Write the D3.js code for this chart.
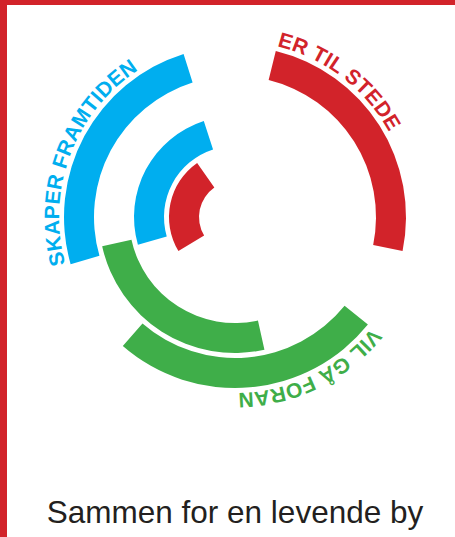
<!DOCTYPE html>
<html>
<head>
<meta charset="utf-8">
<script src="https://cdn.jsdelivr.net/npm/d3@7"></script>
<style>
  html, body { margin: 0; padding: 0; background: #fff; }
  svg { display: block; }
</style>
</head>
<body>
<svg id="chart" width="455" height="537"></svg>
<script>
// ---- data ----
const labels = ["SKAPER FRAMTIDEN", "ER TIL STEDE", "VIL GÅ FORAN"];
const labelColors = ["#00aeef", "#d2232a", "#3fae49"];
const labelStart = [-105.5, 13.8, 129];          // degrees, clockwise from 12 o'clock

const arcGroup = [0, 0, 1, 1, 2, 2];              // index into labels
const arcRing = [3, 1, 3, 0, 2, 3];               // ring number (0 = innermost)
const arcStart = [-106, -106, 13.8, -121, 167.5, 129];
const arcEnd = [-17.5, -18, 101.5, -35, 257.6, 221];

const caption = "Sammen for en levende by";

// ---- layout ----
const W = 455, H = 537;
const cx = 235, cy = 217;
const svg = d3.select("#chart");

const ang = d3.scaleLinear().domain([0, 360]).range([0, 2 * Math.PI]);
const ringInner = d3.scaleLinear().domain([0, 3]).range([36, 141]);
const ringWidth = 30;
const labelRadius = 176;

// frame
svg.append("rect").attr("x", 0).attr("y", 0).attr("width", W).attr("height", 5).attr("fill", "#d2232a");
svg.append("rect").attr("x", 0).attr("y", 0).attr("width", 7).attr("height", H).attr("fill", "#d2232a");

const g = svg.append("g").attr("transform", `translate(${cx},${cy})`);

const arcGen = d3.arc()
  .innerRadius(d => ringInner(d.ring))
  .outerRadius(d => ringInner(d.ring) + ringWidth)
  .startAngle(d => ang(d.start))
  .endAngle(d => ang(d.end));

const arcData = arcRing.map((r, i) => ({ ring: r, start: arcStart[i], end: arcEnd[i], group: arcGroup[i] }));

g.selectAll("path.arc")
  .data(arcData)
  .join("path")
  .attr("class", "arc")
  .attr("d", arcGen)
  .attr("fill", d => labelColors[d.group]);

// label paths (clockwise circles starting at label start)
labels.forEach((lab, i) => {
  const p = d3.path();
  const a0 = ang(labelStart[i]) - Math.PI / 2;
  p.arc(0, 0, labelRadius, a0, a0 + Math.PI * 1.9, false);
  g.append("path").attr("id", "lp" + i).attr("d", p.toString()).attr("fill", "none");
  g.append("text")
    .attr("font-family", "'Liberation Sans', Arial, Helvetica, sans-serif")
    .attr("font-weight", "bold")
    .attr("font-size", 21)
    .attr("letter-spacing", 0.3)
    .attr("fill", labelColors[i])
    .append("textPath")
    .attr("href", "#lp" + i)
    .attr("startOffset", 0)
    .text(lab);
});

// caption
svg.append("text")
  .attr("x", 235)
  .attr("y", 523)
  .attr("text-anchor", "middle")
  .attr("font-family", "'Liberation Sans', Arial, Helvetica, sans-serif")
  .attr("font-size", 31.5)
  .attr("fill", "#231f20")
  .text(caption);
</script>
</body>
</html>
